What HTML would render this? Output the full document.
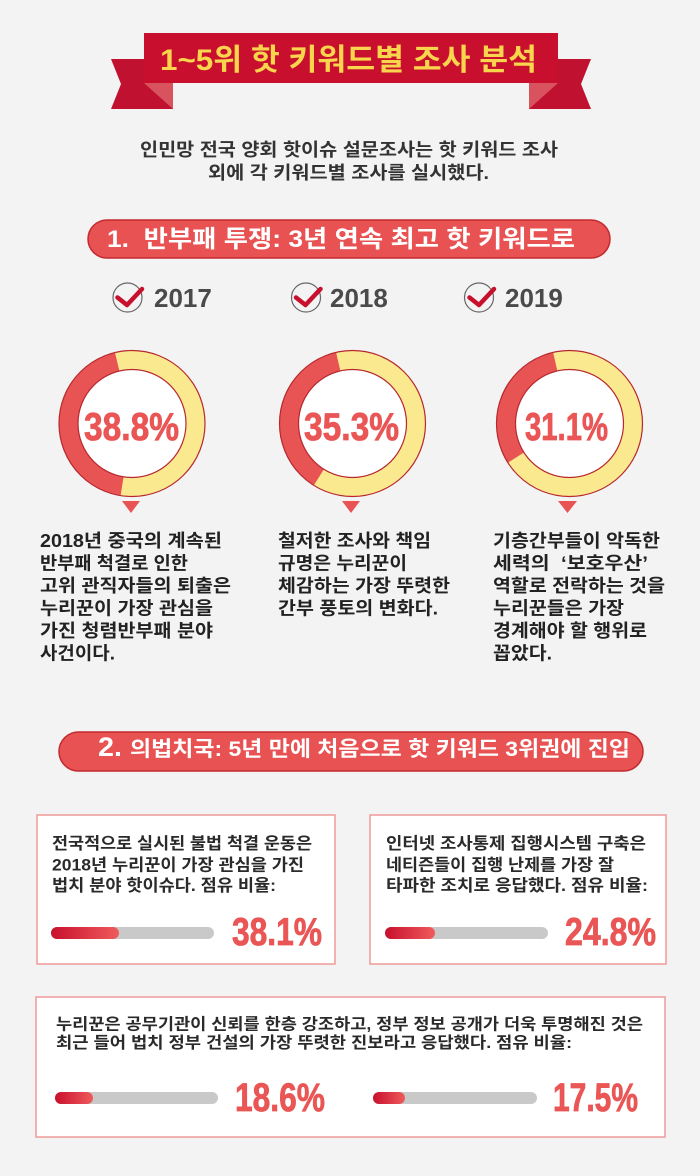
<!DOCTYPE html>
<html><head><meta charset="utf-8"><style>
html,body{margin:0;padding:0;background:#f3f3f3;}
svg{display:block;}
text{font-family:"Liberation Sans","Noto Sans CJK KR",sans-serif;font-weight:bold;}
.n{font-family:"Liberation Sans Narrow","Liberation Sans",sans-serif;font-weight:bold;}
</style></head><body>
<svg width="700" height="1176" viewBox="0 0 700 1176" xmlns="http://www.w3.org/2000/svg">
<defs>
<linearGradient id="bg" x1="0" x2="1" y1="0" y2="0"><stop offset="0" stop-color="#c8102e"/><stop offset="1" stop-color="#ef5b5b"/></linearGradient>
</defs>
<rect width="700" height="1176" fill="#f3f3f3"/>

<!-- Banner -->
<polygon points="111,59 173,59 173,109 111,109 121,84" fill="#c01230"/>
<polygon points="591,59 529,59 529,109 591,109 581,84" fill="#c01230"/>
<polygon points="144,83 173,83 173,109" fill="#d9535f"/>
<polygon points="558,83 529,83 529,109" fill="#d9535f"/>
<rect x="144" y="33" width="414" height="50" fill="#c8102e"/>
<text x="160" y="70" font-size="30" fill="#f8d54c" textLength="377" lengthAdjust="spacingAndGlyphs">1~5위 핫 키워드별 조사 분석</text>

<!-- Subtitle -->
<text x="349" y="156" font-size="18" fill="#333" text-anchor="middle" textLength="418" lengthAdjust="spacingAndGlyphs">인민망 전국 양회 핫이슈 설문조사는 핫 키워드 조사</text>
<text x="348.5" y="179" font-size="18" fill="#333" text-anchor="middle" textLength="281" lengthAdjust="spacingAndGlyphs">외에 각 키워드별 조사를 실시했다.</text>

<!-- Section 1 pill -->
<rect x="88" y="220" width="522" height="38" rx="19" fill="#e85252" stroke="#c22b30" stroke-width="1.5"/>
<text x="107" y="247" font-size="24" fill="#fff" textLength="468" lengthAdjust="spacingAndGlyphs" xml:space="preserve">1.  반부패 투쟁: 3년 연속 최고 핫 키워드로</text>

<!-- Year labels -->
<g fill="none" stroke="#666" stroke-width="1.2">
<circle cx="127.5" cy="297.5" r="14.5"/>
<circle cx="306" cy="297.5" r="14.5"/>
<circle cx="479" cy="297.5" r="14.5"/>
</g>
<g fill="none" stroke="#c8102e" stroke-width="4.5" stroke-linecap="round" stroke-linejoin="round">
<path d="M117.5,297.5 L127,305 L142,289"/>
<path d="M296,297.5 L305.5,305 L320.5,289"/>
<path d="M469.5,297.5 L479,305 L494,289"/>
</g>
<text x="154" y="307" font-size="26" fill="#4a4a4a" font-family="Liberation Sans">2017</text>
<text x="330" y="307" font-size="26" fill="#4a4a4a" font-family="Liberation Sans">2018</text>
<text x="505" y="307" font-size="26" fill="#4a4a4a" font-family="Liberation Sans">2019</text>

<!-- Donuts -->
<g fill="none" stroke-width="19">
<circle cx="132" cy="423.5" r="63.5" stroke="#fbe98f"/>
<path d="M122.07,486.22 A63.5,63.5 0 0 1 117.18,361.75" stroke="#e85454"/>
<circle cx="352.5" cy="423.5" r="63.5" stroke="#fbe98f"/>
<path d="M318.85,477.35 A63.5,63.5 0 0 1 338.21,361.63" stroke="#e85454"/>
<circle cx="569.5" cy="423.5" r="63.5" stroke="#fbe98f"/>
<path d="M515.95,457.62 A63.5,63.5 0 0 1 555.21,361.63" stroke="#e85454"/>
</g>
<g fill="#fff" stroke="#b7282e" stroke-width="1.2">
<circle cx="132" cy="423.5" r="54"/>
<circle cx="352.5" cy="423.5" r="54"/>
<circle cx="569.5" cy="423.5" r="54"/>
</g>
<g fill="none" stroke="#b7282e" stroke-width="1.2">
<circle cx="132" cy="423.5" r="73"/>
<circle cx="352.5" cy="423.5" r="73"/>
<circle cx="569.5" cy="423.5" r="73"/>
</g>
<g fill="#ea5555" stroke="#ea5555" stroke-width="0.8">
<text class="n" x="84" y="440" font-size="39" textLength="95" lengthAdjust="spacingAndGlyphs">38.8%</text>
<text class="n" x="304" y="440" font-size="39" textLength="95" lengthAdjust="spacingAndGlyphs">35.3%</text>
<text class="n" x="525" y="440" font-size="39" textLength="83" lengthAdjust="spacingAndGlyphs">31.1%</text>
</g>
<g fill="#e85454">
<polygon points="122,501 140,501 131,513"/>
<polygon points="342,501 360,501 351,513"/>
<polygon points="558,501 577,501 567.5,513"/>
</g>

<!-- Descriptions -->
<g font-size="18" fill="#222">
<text x="40" y="547" textLength="182" lengthAdjust="spacingAndGlyphs">2018년 중국의 계속된</text>
<text x="40" y="569.5" textLength="148" lengthAdjust="spacingAndGlyphs">반부패 척결로 인한</text>
<text x="40" y="592" textLength="191" lengthAdjust="spacingAndGlyphs">고위 관직자들의 퇴출은</text>
<text x="40" y="614.5" textLength="173" lengthAdjust="spacingAndGlyphs">누리꾼이 가장 관심을</text>
<text x="40" y="637" textLength="173" lengthAdjust="spacingAndGlyphs">가진 청렴반부패 분야</text>
<text x="40" y="659.5" textLength="75" lengthAdjust="spacingAndGlyphs">사건이다.</text>

<text x="278" y="547" textLength="153" lengthAdjust="spacingAndGlyphs">철저한 조사와 책임</text>
<text x="278" y="569.5" textLength="129" lengthAdjust="spacingAndGlyphs">규명은 누리꾼이</text>
<text x="278" y="592" textLength="172" lengthAdjust="spacingAndGlyphs">체감하는 가장 뚜렷한</text>
<text x="278" y="614.5" textLength="160" lengthAdjust="spacingAndGlyphs">간부 풍토의 변화다.</text>

<text x="493" y="547" textLength="167" lengthAdjust="spacingAndGlyphs">기층간부들이 악독한</text>
<text x="493" y="569.5" textLength="155" lengthAdjust="spacingAndGlyphs" xml:space="preserve">세력의  ‘보호우산’</text>
<text x="493" y="592" textLength="172" lengthAdjust="spacingAndGlyphs">역할로 전락하는 것을</text>
<text x="493" y="614.5" textLength="131" lengthAdjust="spacingAndGlyphs">누리꾼들은 가장</text>
<text x="493" y="637" textLength="154" lengthAdjust="spacingAndGlyphs">경계해야 할 행위로</text>
<text x="493" y="659.5" textLength="59" lengthAdjust="spacingAndGlyphs">꼽았다.</text>
</g>

<!-- Section 2 pill -->
<rect x="59" y="732" width="584" height="39" rx="19.5" fill="#e85252" stroke="#c22b30" stroke-width="1.5"/>
<text class="n" x="98" y="756" font-size="27" fill="#fff" textLength="24" lengthAdjust="spacingAndGlyphs">2.</text>
<text x="130" y="756" font-size="21" fill="#fff" textLength="500" lengthAdjust="spacingAndGlyphs">의법치국: 5년 만에 처음으로 핫 키워드 3위권에 진입</text>

<!-- Boxes -->
<g fill="#fff" stroke="#f09a9a" stroke-width="1.5">
<rect x="37" y="815" width="298" height="149"/>
<rect x="370" y="815" width="296" height="149"/>
<rect x="36" y="997" width="629" height="140"/>
</g>

<g font-size="16.5" fill="#2a2a2a">
<text x="52" y="849" textLength="260" lengthAdjust="spacingAndGlyphs">전국적으로 실시된 불법 척결 운동은</text>
<text x="52" y="870.5" textLength="252" lengthAdjust="spacingAndGlyphs">2018년 누리꾼이 가장 관심을 가진</text>
<text x="52" y="891" textLength="224" lengthAdjust="spacingAndGlyphs">법치 분야 핫이슈다. 점유 비율:</text>

<text x="386" y="849" textLength="260" lengthAdjust="spacingAndGlyphs">인터넷 조사통제 집행시스템 구축은</text>
<text x="386" y="870.5" textLength="228" lengthAdjust="spacingAndGlyphs">네티즌들이 집행 난제를 가장 잘</text>
<text x="386" y="891" textLength="262" lengthAdjust="spacingAndGlyphs">타파한 조치로 응답했다. 점유 비율:</text>
</g>
<g font-size="16" fill="#2a2a2a">
<text x="56" y="1029.5" textLength="587" lengthAdjust="spacingAndGlyphs">누리꾼은 공무기관이 신뢰를 한층 강조하고, 정부 정보 공개가 더욱 투명해진 것은</text>
<text x="56" y="1048" textLength="516" lengthAdjust="spacingAndGlyphs">최근 들어 법치 정부 건설의 가장 뚜렷한 진보라고 응답했다. 점유 비율:</text>
</g>

<!-- Bars -->
<g fill="#c9c9c9">
<rect x="51" y="927" width="163" height="12" rx="6"/>
<rect x="385" y="927" width="163" height="12" rx="6"/>
<rect x="55" y="1092" width="163" height="12" rx="6"/>
<rect x="373" y="1092" width="164" height="12" rx="6"/>
</g>
<g fill="url(#bg)">
<rect x="51" y="927" width="68" height="12" rx="6"/>
<rect x="385" y="927" width="50" height="12" rx="6"/>
<rect x="55" y="1092" width="38" height="12" rx="6"/>
<rect x="373" y="1092" width="32" height="12" rx="6"/>
</g>

<g fill="#ea5555" stroke="#ea5555" stroke-width="0.8">
<text class="n" x="232" y="945" font-size="39" textLength="90" lengthAdjust="spacingAndGlyphs">38.1%</text>
<text class="n" x="565" y="945" font-size="39" textLength="91" lengthAdjust="spacingAndGlyphs">24.8%</text>
<text class="n" x="235" y="1111" font-size="40" textLength="90" lengthAdjust="spacingAndGlyphs">18.6%</text>
<text class="n" x="553" y="1111" font-size="40" textLength="85" lengthAdjust="spacingAndGlyphs">17.5%</text>
</g>
</svg>
</body></html>
